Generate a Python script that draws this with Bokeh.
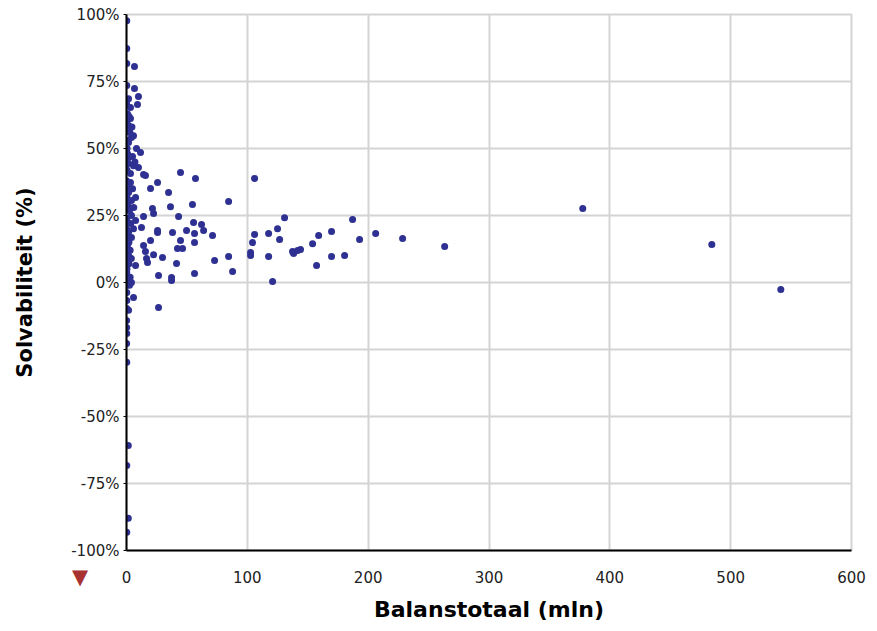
from bokeh.plotting import figure
from bokeh.layouts import column
from bokeh.models import Range1d, FixedTicker, PrintfTickFormatter, ColumnDataSource, Div
from bokeh.embed import file_html
from bokeh.resources import INLINE

# Balanstotaal (mln) and Solvabiliteit (%)
balanstotaal = [
    541.5, 484.4, 377.6, 263.3, 228.5, 206.2, 192.9, 187.1, 180.5, 169.7, 169.7, 159.0, 157.3, 154.0,
    144.0, 137.4, 138.3, 141.6, 130.8, 125.0, 126.7, 117.6, 120.9, 117.6, 106.0, 106.0, 104.3, 102.7,
    102.7, 84.5, 84.5, 87.8, 72.9, 71.2, 63.8, 62.1,
    57.1, 44.7, 54.6, 55.5, 56.3, 56.3, 56.3, 34.8, 25.7, 19.9, 14.1, 11.6, 36.4, 21.5, 22.4, 43.1,
    14.1, 7.5, 7.5, 12.4, 25.7, 25.7, 38.1, 49.7, 44.7, 19.9, 14.1, 4.1, 42.2, 46.4, 15.7, 22.4, 29.8,
    17.4, 16.6, 41.4, 7.5, 26.5, 37.3, 37.3, 4.1, 5.8, 26.5,
    0.2, 0.2, 0.2, 6.6, 0.2, 6.6, 9.9, 1.7, 9.1, 3.3, 0.8, 3.3, 1.7, 0.8, 5.8, 4.1, 0.8, 1.7, 8.3,
    0.8, 1.7, 1.7, 5.8, 9.9, 3.3, 15.7, 0.2, 3.3, 1.7, 4.1, 0.8, 2.5, 4.1, 0.8, 5.8, 1.7, 0.8, 1.7,
    0.2, 0.2, 1.7,
    0.1, 0.3, 0.5, 0.2, 0.4, 0.1, 0.3, 0.6, 0.2, 0.4, 0.1, 0.3, 0.5, 0.2, 0.4, 0.1, 0.3, 2.5, 3.0,
    2.0, 3.0, 2.5, 3.0, 2.2, 2.8, 2.0, 4.5, 5.0, 3.5, 2.0, 6.0, 5.0, 7.0, 4.0,
    0.2, 0.2, 0.1, 0.1, 0.2, 0.1, 0.2, 1.5, 0.2, 1.5, 0.2,
]
solvabiliteit = [
    -2.6, 14.2, 27.6, 13.4, 16.4, 18.3, 16.0, 23.5, 10.1, 19.0, 9.7, 17.5, 6.3, 14.5,
    12.3, 11.6, 10.8, 11.9, 24.2, 20.1, 16.0, 18.3, 0.4, 9.7, 38.8, 17.9, 14.9, 11.2,
    10.1, 30.2, 9.7, 4.1, 8.2, 17.5, 19.4, 21.6,
    38.8, 41.0, 29.1, 22.4, 18.3, 14.9, 3.4, 33.6, 37.3, 35.1, 40.3, 48.5, 28.3, 27.6, 25.7, 24.6,
    24.6, 31.7, 23.1, 20.5, 19.4, 18.7, 18.7, 19.4, 15.7, 15.7, 13.8, 16.8, 12.7, 12.7, 11.6, 10.4, 9.3,
    7.5, 9.0, 7.1, 6.3, 2.6, 1.9, 0.7, 0.0, -5.6, -9.3,
    97.7, 87.3, 81.7, 80.6, 73.5, 72.4, 69.4, 68.6, 66.4, 65.3, 63.0, 61.2, 58.6, 56.7, 54.8, 54.1, 53.0, 52.2, 50.0,
    48.1, 46.6, 44.4, 43.6, 42.9, 40.7, 39.9, 35.4, 37.3, 33.6, 30.6, 28.7, 26.9, 25.0, 22.4, 20.1, 18.7, 13.8, 10.1,
    3.7, -3.7, -10.4,
    67.0, 60.0, 50.0, 45.0, 42.0, 38.0, 32.0, 30.0, 27.0, 24.0, 20.0, 17.0, 12.0, 8.0, 5.0, 1.0, -1.0, -1.0, 2.0,
    7.0, 12.0, 28.0, 35.0, 47.0, 56.0, 62.0, 58.0, 47.0, 22.0, 15.0, 28.0, 35.0, 45.0, 9.0,
    -6.7, -9.7, -14.2, -16.8, -19.0, -22.8, -29.8, -60.8, -68.3, -88.0, -93.2,
]

x_ticks = [0, 100, 200, 300, 400, 500, 600]
y_ticks = [-100, -75, -50, -25, 0, 25, 50, 75, 100]

FONT = "DejaVu Sans"

p = figure(
    frame_width=725, frame_height=536,
    min_border_left=126, min_border_right=18, min_border_top=14, min_border_bottom=76,
    x_range=Range1d(0, 600), y_range=Range1d(-100, 100),
    output_backend="svg", toolbar_location=None, tools="",
    background_fill_color="white", border_fill_color="white",
)
p.outline_line_color = "#d4d4d4"
p.outline_line_width = 2

src = ColumnDataSource(dict(x=balanstotaal, y=solvabiliteit))
p.scatter("x", "y", source=src, size=7, color="#2e3192", line_color=None)

for g in (p.xgrid[0], p.ygrid[0]):
    g.grid_line_color = "#d4d4d4"
    g.grid_line_width = 2

p.xaxis.ticker = FixedTicker(ticks=x_ticks)
p.yaxis.ticker = FixedTicker(ticks=y_ticks)
p.yaxis.formatter = PrintfTickFormatter(format="%d%%")

for ax in (p.xaxis[0], p.yaxis[0]):
    ax.axis_line_color = "black"
    ax.axis_line_width = 2
    ax.minor_tick_line_color = None
    ax.major_tick_in = 0
    ax.major_label_text_font = FONT
    ax.major_label_text_font_size = "15px"
    ax.major_label_text_color = "#222222"
    ax.axis_label_text_font = FONT
    ax.axis_label_text_font_style = "bold"
    ax.axis_label_text_font_size = "21px"
    ax.axis_label_text_color = "black"

p.xaxis.major_tick_line_color = None
p.xaxis.major_tick_out = 0
p.xaxis.major_label_standoff = 20
p.xaxis.axis_label = "Balanstotaal (mln)"
p.xaxis.axis_label_text_font_size = "22px"
p.xaxis.axis_label_standoff = 11

p.yaxis.major_tick_out = 3
p.yaxis.major_tick_line_color = "black"
p.yaxis.major_label_standoff = 4
p.yaxis.axis_label = "Solvabiliteit (%)"
p.yaxis.axis_label_standoff = 31

# small sort marker under the y-axis labels
marker = Div(text="▼", width=24, height=22, margin=(-60, 0, 0, 72),
             styles={"color": "#a83232", "font-size": "21px", "font-family": FONT,
                     "line-height": "22px"})

layout = column(p, marker, spacing=0)

open("out.html", "w").write(file_html(layout, INLINE))
